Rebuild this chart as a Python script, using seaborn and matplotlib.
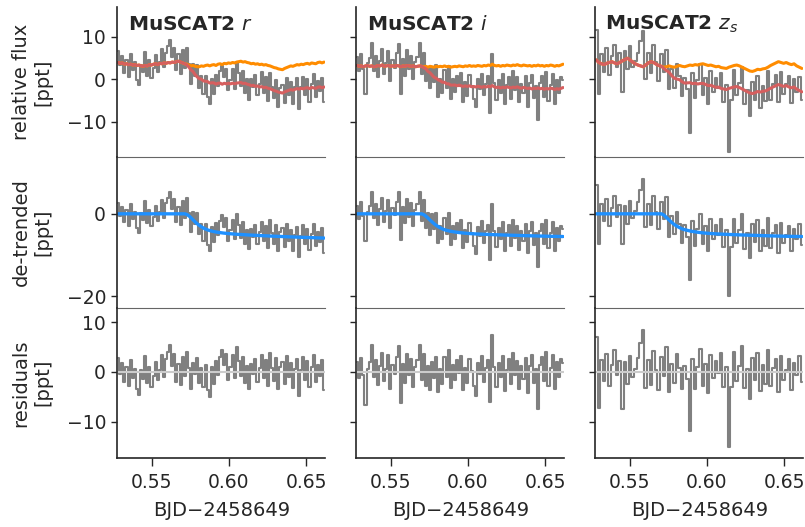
import numpy as np
import matplotlib
matplotlib.use("Agg")
import matplotlib.pyplot as plt
from matplotlib.ticker import MultipleLocator
import seaborn as sns

# --- data (ppt) ---
titles = ["MuSCAT2 $r$", "MuSCAT2 $i$", "MuSCAT2 $z_s$"]

time_r = np.linspace(0.5284, 0.6616, 100)
time_i = np.linspace(0.5284, 0.6616, 100)
time_z = np.linspace(0.5285, 0.6615, 80)

# baseline (orange) trend
trend_r = [3.9, 3.7, 3.8, 3.5, 3.6, 3.4, 3.5, 3.3, 3.4, 3.2,
           3.3, 3.1, 3.0, 3.2, 3.1, 3.4, 3.3, 3.5, 3.6, 3.4,
           3.7, 3.6, 3.8, 3.7, 3.9, 3.8, 4.0, 3.9, 4.1, 4.2,
           4.0, 3.8, 3.6, 3.5, 3.3, 3.1, 3.2, 3.0, 2.9, 2.9,
           3.1, 3.0, 3.2, 3.3, 3.1, 3.3, 3.4, 3.2, 3.5, 3.6,
           3.4, 3.7, 3.6, 3.8, 3.7, 3.9, 3.8, 4.0, 4.1, 4.2,
           4.0, 4.1, 3.9, 3.8, 3.6, 3.7, 3.5, 3.6, 3.4, 3.5,
           3.3, 3.4, 3.2, 3.1, 2.9, 2.7, 2.6, 2.4, 2.3, 2.2,
           2.5, 2.7, 2.9, 3.1, 3.0, 3.2, 3.4, 3.3, 3.5, 3.4,
           3.6, 3.7, 3.5, 3.8, 3.7, 3.6, 3.9, 4.0, 3.8, 4.0]
trend_i = [3.2, 3.0, 3.1, 2.9, 3.1, 3.2, 3.0, 3.1, 2.9, 3.0,
           3.2, 3.1, 3.3, 3.0, 3.1, 3.2, 3.0, 3.1, 3.0, 3.2,
           3.1, 2.9, 3.1, 3.0, 3.2, 3.1, 3.0, 3.1, 2.9, 3.0,
           3.1, 3.0, 2.9, 3.0, 2.8, 3.0, 2.9, 2.8, 3.0, 2.9,
           3.0, 2.9, 3.1, 2.9, 3.0, 2.8, 2.9, 3.0, 2.9, 3.1,
           3.0, 2.9, 3.1, 3.0, 3.2, 3.0, 3.1, 3.0, 3.2, 3.1,
           3.0, 3.2, 3.1, 3.3, 3.2, 3.5, 3.2, 3.1, 3.2, 3.0,
           3.2, 3.1, 3.3, 3.2, 3.1, 3.3, 3.2, 3.4, 3.2, 3.1,
           3.3, 3.2, 3.1, 3.2, 3.0, 3.2, 3.1, 3.3, 3.1, 3.2,
           3.0, 3.2, 3.1, 3.3, 3.2, 3.0, 3.2, 3.1, 3.3, 3.5]
trend_z = [4.5, 3.9, 3.6, 3.4, 3.7, 3.9, 4.1, 3.8, 3.6, 3.9,
           4.3, 4.6, 4.9, 4.5, 4.0, 3.6, 3.3, 3.1, 2.9, 3.3,
           3.8, 4.1, 3.9, 3.5, 3.2, 3.0, 2.8, 2.9, 3.1, 2.9,
           2.8, 3.0, 3.2, 3.0, 2.9, 3.1, 3.3, 3.2, 3.4, 3.3,
           3.5, 3.6, 3.4, 3.2, 3.3, 3.1, 2.9, 3.0, 2.7, 2.6,
           2.5, 2.8, 3.0, 3.2, 3.3, 3.1, 2.8, 2.5, 2.2, 1.9,
           1.8, 2.0, 2.3, 2.2, 2.4, 2.5, 2.8, 3.2, 3.5, 3.8,
           4.1, 3.9, 3.7, 3.9, 3.6, 3.4, 3.6, 3.1, 2.8, 2.5]

# transit model (blue)
model_r = [0.0] * 33 + [
    -0.15, -0.5, -0.95, -1.45, -1.95, -2.4, -2.8, -3.15, -3.45, -3.7,
    -3.9, -4.05, -4.18, -4.3, -4.4, -4.48, -4.55, -4.62, -4.68, -4.73,
    -4.78, -4.83, -4.87, -4.91, -4.95,
    -4.98, -5.01, -5.04, -5.07, -5.1, -5.13, -5.16, -5.18, -5.21, -5.23,
    -5.26, -5.28, -5.31, -5.33, -5.35, -5.38, -5.4, -5.42, -5.44, -5.46,
    -5.48, -5.5, -5.52, -5.54, -5.56, -5.58, -5.6, -5.62, -5.64, -5.66,
    -5.68, -5.7, -5.71, -5.73, -5.75, -5.77, -5.78, -5.8, -5.82, -5.83,
    -5.85, -5.87]
model_i = [0.0] * 32 + [
    -0.2, -0.55, -1.0, -1.5, -1.95, -2.4, -2.8, -3.1, -3.4, -3.65,
    -3.85, -4.0, -4.12, -4.23, -4.32, -4.4, -4.47, -4.53, -4.59, -4.64,
    -4.69, -4.73, -4.77, -4.81, -4.84,
    -4.87, -4.89, -4.91, -4.93, -4.95, -4.97, -4.99, -5.01, -5.03, -5.05,
    -5.07, -5.09, -5.1, -5.12, -5.14, -5.15, -5.17, -5.18, -5.2, -5.21,
    -5.23, -5.24, -5.26, -5.27, -5.29, -5.3, -5.31, -5.33, -5.34, -5.35,
    -5.37, -5.38, -5.39, -5.4, -5.42, -5.43, -5.44, -5.45, -5.46, -5.47,
    -5.48, -5.49, -5.5]
model_z = [0.0] * 26 + [
    -0.3, -0.9, -1.5, -2.1, -2.6, -3.0, -3.35, -3.65, -3.85, -4.0,
    -4.15, -4.27, -4.37, -4.46, -4.54, -4.61, -4.67, -4.72, -4.77, -4.81,
    -4.85, -4.88, -4.91, -4.94, -4.97, -5.0, -5.02, -5.05, -5.07, -5.1,
    -5.12, -5.14, -5.16, -5.18, -5.2, -5.22, -5.24, -5.26, -5.28, -5.3,
    -5.32, -5.34, -5.35, -5.37, -5.39, -5.4, -5.42, -5.43, -5.45, -5.46,
    -5.47, -5.48, -5.49, -5.5]

# residuals
resid_r = [2.7, -0.5, 1.7, -2.1, 0.9, -2.9, 2.3, -1.2, 0.5, -3.5,
           -4.6, 0.3, -1.4, 3.1, -2.3, 1.0, -3.0, -0.8, 2.0, -1.7,
           0.4, 3.4, -1.0, 2.5, 3.9, 5.4, 1.2, 3.5, -2.0, 1.6,
           -2.7, 3.0, -0.9, 4.0, 0.8, -3.4, 1.8, -0.4, 2.7, -2.2,
           0.7, -3.1, 1.3, -3.6, -5.0, 1.0, -2.5, 2.1, -0.7, 2.9,
           4.4, 1.4, 3.6, -1.7, 0.9, 3.3, -1.2, 5.0, 2.2, -0.8,
           3.0, -2.3, 1.2, -3.5, 1.6, -0.5, 2.6, -2.1, 0.8, 3.4,
           -1.3, 2.3, -2.9, 3.8, 0.7, -1.8, 2.7, -3.5, 1.0, 2.0,
           -2.5, 3.1, -1.0, 1.7, -3.3, 0.5, 2.5, -4.8, 0.3, 2.9,
           -1.6, 2.1, -3.1, 0.9, 3.3, -2.0, 1.4, -0.9, 2.3, -3.6]
resid_i = [1.9, -1.2, 2.8, -0.6, -6.6, 0.5, 2.0, 5.4, -1.1, 2.4,
           -2.6, 1.1, 3.8, -1.9, 0.6, 3.4, -3.5, 1.3, -0.4, 2.9,
           5.2, -6.3, 1.6, -2.3, 3.6, -0.7, 2.5, -3.0, 1.0, 2.3,
           5.3, -1.7, 3.5, -2.8, 1.1, -3.7, 2.0, -1.2, 3.0, -4.0,
           0.5, -2.5, 2.9, -1.0, 4.3, -3.2, 1.4, -1.7, 2.3, -0.2,
           3.1, -3.6, 0.8, -2.2, 2.6, 0.1, -2.9, -4.8, 1.8, -0.5,
           3.2, -2.0, 0.7, 2.4, -6.1, 7.4, 1.0, -3.0, 1.7, -1.1,
           3.1, -3.8, 0.4, 2.5, -2.5, 3.7, -0.6, 2.2, -3.4, 1.1,
           -1.4, 2.8, -4.3, 1.2, 3.4, -2.3, 0.6, -7.5, 1.3, 2.9,
           -1.9, 4.0, -2.9, 0.7, 3.4, -3.5, 2.0, -1.0, 2.6, 1.8]
resid_z = [7.0, -7.3, 2.4, -1.8, 3.6, -2.9, 1.4, 4.3, -0.7, 2.2,
           -7.4, 1.9, -2.5, 3.2, -1.1, 0.6, 2.8, 5.8, 8.4, -3.3,
           2.3, -2.6, 4.2, 0.4, -3.6, 2.9, -0.9, 4.9, -4.0, 1.5,
           -2.2, 3.5, 0.8, -3.4, 1.2, -1.5, -11.8, 2.6, -3.5, 0.9,
           4.6, -2.8, 1.6, -4.3, 3.4, -1.3, 2.1, -0.2, 3.7, -3.1,
           1.0, -15.0, -3.0, 3.9, -1.9, 1.1, 5.1, -3.3, 0.5, -5.4,
           2.7, -1.6, 3.7, -3.8, 1.3, -2.4, 4.4, -2.9, 0.7, 2.6,
           -4.1, 3.2, -1.7, 0.3, 2.5, -3.6, 1.8, -0.6, 3.1, -2.0]

times = [time_r, time_i, time_z]
trends = [trend_r, trend_i, trend_z]
models = [model_r, model_i, model_z]
resids = [resid_r, resid_i, resid_z]

ylabels = ["relative flux\n[ppt]", "de-trended\n[ppt]", "residuals\n[ppt]"]
ylims = [(-18.4, 17.0), (-22.7, 13.7), (-17.3, 12.9)]

sns.set_theme(style="ticks", rc={"axes.linewidth": 1.2,
                                 "xtick.major.size": 6, "ytick.major.size": 4.5,
                                 "xtick.major.width": 1.0, "ytick.major.width": 1.0,
                                 "xtick.major.pad": 5,
                                 "xtick.labelsize": 13.5, "ytick.labelsize": 13.5,
                                 "axes.labelsize": 14})
plt.rcParams["font.family"] = ["DejaVu Sans"]

fig, axes = plt.subplots(3, 3, figsize=(8.05, 5.27), dpi=100,
                         sharex="col", sharey="row")
fig.subplots_adjust(left=0.1455, right=0.998, top=0.987, bottom=0.131,
                    wspace=0.147, hspace=0)

gray = "0.5"
for j in range(3):
    t = times[j]
    trend = np.array(trends[j])
    model = np.array(models[j])
    resid = np.array(resids[j])
    detr = model + resid
    raw = trend + detr

    ax0, ax1, ax2 = axes[:, j]

    # raw flux with baseline and full model
    sns.lineplot(x=t, y=raw, ax=ax0, color=gray, lw=1.5,
                 drawstyle="steps-mid", estimator=None, legend=False)
    sns.lineplot(x=t, y=trend, ax=ax0, color="darkorange", lw=2.2,
                 estimator=None, legend=False)
    sns.lineplot(x=t, y=trend + model, ax=ax0, color="#d65f5f", lw=2.2,
                 estimator=None, legend=False)
    ax0.text(0.05, 0.885, titles[j], transform=ax0.transAxes,
             fontsize=14.5, fontweight="bold", va="center")

    # de-trended flux and transit model
    sns.lineplot(x=t, y=detr, ax=ax1, color=gray, lw=1.5,
                 drawstyle="steps-mid", estimator=None, legend=False)
    sns.lineplot(x=t, y=model, ax=ax1, color="dodgerblue", lw=2.4,
                 estimator=None, legend=False)

    # residuals
    sns.lineplot(x=t, y=resid, ax=ax2, color=gray, lw=1.5,
                 drawstyle="steps-mid", estimator=None, legend=False)
    ax2.axhline(0, color="0.8", lw=1.5)

    ax2.set_xlim(0.5277, 0.6625)
    ax2.xaxis.set_major_locator(MultipleLocator(0.05))
    ax2.set_xlabel("BJD\u22122458649", labelpad=6)

    for r, ax in enumerate(axes[:, j]):
        ax.set_facecolor("none")
        ax.spines["right"].set_visible(False)
        ax.spines["top"].set_visible(False)
        ax.set_ylim(*ylims[r])
        if r < 2:
            ax.spines["bottom"].set_linewidth(0.8)
            ax.spines["bottom"].set_color("0.4")
            ax.tick_params(axis="x", length=0)
            ax.set_xlabel("")
        if j == 0:
            ax.set_ylabel(ylabels[r], labelpad=10)
        else:
            ax.set_ylabel("")

axes[0, 0].yaxis.set_major_locator(MultipleLocator(10))
axes[1, 0].yaxis.set_major_locator(MultipleLocator(20))
axes[2, 0].yaxis.set_major_locator(MultipleLocator(10))

fig.savefig("out.png", dpi=100, facecolor="white")
